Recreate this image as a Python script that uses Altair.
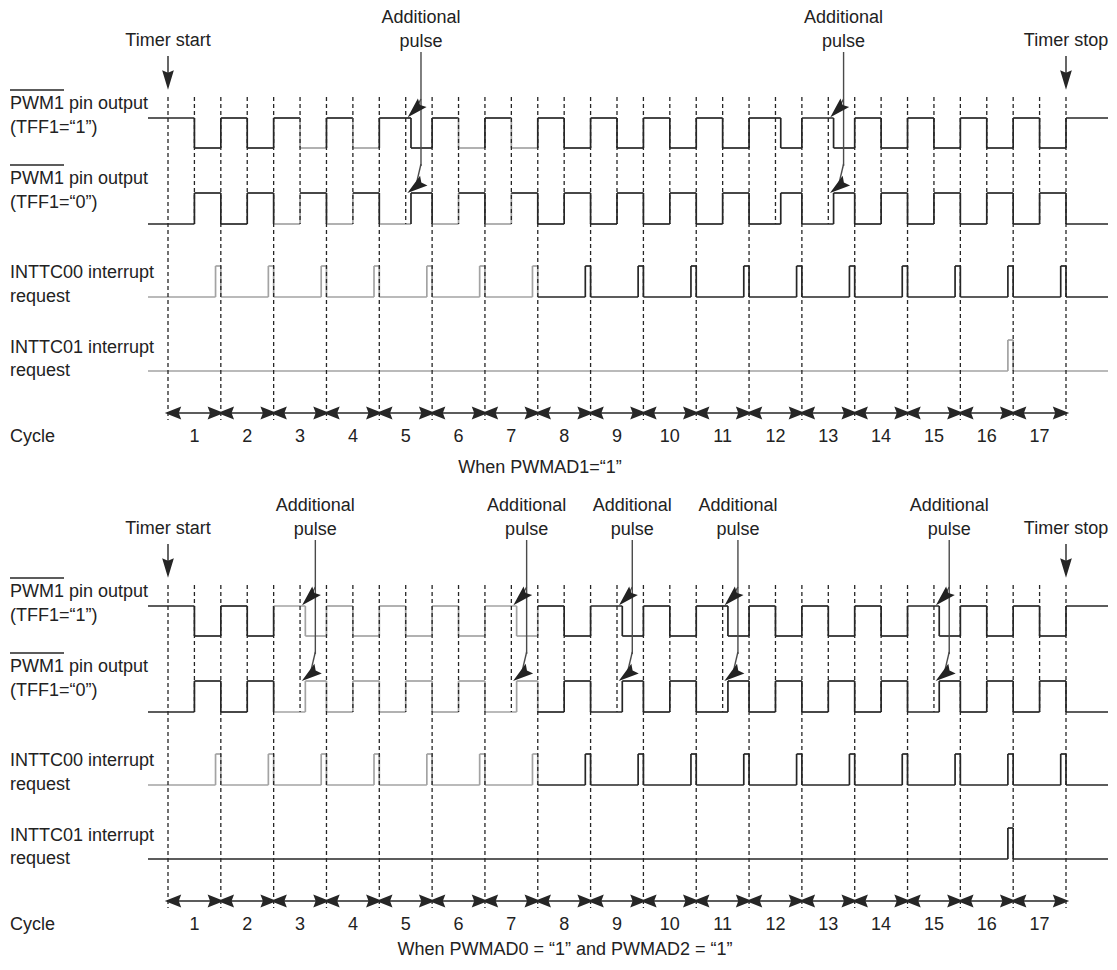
import altair as alt
import pandas as pd

# ---------------- values ----------------
CYCLE_NUMBERS = list(range(1, 18))
# fraction of each cycle at which the (inverted) PWM1 output changes; 0.6 = cycle carrying an additional pulse
FALL_POINT_TOP = [0.5, 0.5, 0.5, 0.5, 0.6, 0.5, 0.5, 0.5, 0.5, 0.5, 0.5, 0.6, 0.6, 0.5, 0.5, 0.5, 0.5]
FALL_POINT_BOTTOM = [0.5, 0.5, 0.6, 0.5, 0.5, 0.5, 0.6, 0.5, 0.6, 0.5, 0.6, 0.5, 0.5, 0.5, 0.6, 0.5, 0.5]
ADDITIONAL_LABEL_TOP = [5, 13]
ADDITIONAL_LABEL_BOTTOM = [3, 7, 9, 11, 15]
INTTC00_PULSES = list(range(1, 18))
INTTC01_PULSES = [16]
PULSE_WIDTH = 0.1
GREY_EDGE_TOP = [3, 4, 6, 7]
GREY_LOW_A_TOP = [3, 4, 6, 7]
GREY_LOW_B_TOP = [3, 4, 5, 6, 7]
GREY_CYCLES_BOTTOM = [3, 4, 5, 6, 7]
INTTC00_GREY_UNTIL = 7
INTTC01_GREY = [True, False]
CAPTIONS = ["When PWMAD1=\u201c1\u201d", "When PWMAD0 = \u201c1\u201d and PWMAD2 = \u201c1\u201d"]
ROW_LABELS = [("PWM1 pin output", "(TFF1=\u201c1\u201d)"),
              ("PWM1 pin output", "(TFF1=\u201c0\u201d)"),
              ("INTTC00 interrupt", "request"),
              ("INTTC01 interrupt", "request")]

# ---------------- layout ----------------
W, H = 1100, 954
PX = 898 / 17
FONT = "Liberation Sans"
TEXT = "#222222"
BLACK = "#262626"
GREY = "#a3a3a3"
ARROW = "#4a4a4a"


def cx(page_x):
    return (page_x - 168) / PX


def dpx(d):
    return d / PX


X_START, X_END = cx(148), cx(1110)
PANEL_DY = [0, 488]
HI_A, LO_A = 118, 148
HI_B, LO_B = 193, 224
INT0_BASE, INT0_TOP = 297, 266
INT1_BASE, INT1_TOP = 371, 340
LABEL_Y = [(104, 128), (179, 203), (273, 297), (348, 371)]
OVERLINE_Y = [90, 165]

xs = alt.Scale(domain=[cx(8), cx(8 + W)], nice=False, zero=False)
ys = alt.Scale(domain=[8, 8 + H], nice=False, zero=False, reverse=True)

wave, ann, dashes = [], [], []
heads_cyc, heads_add, heads_timer = [], [], []
txt_left, txt_center = [], []


def add(lst, x, y, x2, y2, c):
    lst.append({"x": x, "y": y, "x2": x2, "y2": y2, "c": c})


def pwm_grey(p, row, k):
    if p == 0:
        edge = k in GREY_EDGE_TOP
        if row == "A":
            return (False, edge, k in GREY_LOW_A_TOP, False)
        return (k in GREY_LOW_B_TOP, edge, False, False)
    g = k in GREY_CYCLES_BOTTOM
    return (g, g, g, g)


for p, dy in enumerate(PANEL_DY):
    falls = [FALL_POINT_TOP, FALL_POINT_BOTTOM][p]
    # PWM rows
    for row in ("A", "B"):
        L1, L2 = (HI_A + dy, LO_A + dy) if row == "A" else (LO_B + dy, HI_B + dy)
        prev = X_START
        for i, k in enumerate(CYCLE_NUMBERS):
            f = k - 1 + falls[i]
            g1, ge, g2, gk = pwm_grey(p, row, k)
            add(wave, prev, L1, f, L1, GREY if g1 else BLACK)
            add(wave, f, L1, f, L2, GREY if ge else BLACK)
            add(wave, f, L2, k, L2, GREY if g2 else BLACK)
            add(wave, k, L2, k, L1, GREY if gk else BLACK)
            prev = k
        add(wave, prev, L1, X_END, L1, BLACK)
    # INTTC00
    base, top = INT0_BASE + dy, INT0_TOP + dy
    prev = X_START
    for k in INTTC00_PULSES:
        c = GREY if k <= INTTC00_GREY_UNTIL else BLACK
        s = k - PULSE_WIDTH
        add(wave, prev, base, s, base, c)
        add(wave, s, base, s, top, c)
        add(wave, s, top, k, top, c)
        add(wave, k, top, k, base, c)
        prev = k
    add(wave, prev, base, X_END, base, BLACK)
    # INTTC01
    base, top = INT1_BASE + dy, INT1_TOP + dy
    c = GREY if INTTC01_GREY[p] else BLACK
    prev = X_START
    for k in INTTC01_PULSES:
        s = k - PULSE_WIDTH
        add(wave, prev, base, s, base, c)
        add(wave, s, base, s, top, c)
        add(wave, s, top, k, top, c)
        add(wave, k, top, k, base, c)
        prev = k
    add(wave, prev, base, X_END, base, c)

    # dashed guides
    for t in range(0, 18):
        dashes.append({"x": t, "y": 97 + dy, "y2": 420 + dy})
    for k in CYCLE_NUMBERS:
        dashes.append({"x": k - 0.5, "y": 97 + dy, "y2": 224 + dy})

    # cycle arrows and numbers
    for k in CYCLE_NUMBERS:
        add(ann, k - 1, 413 + dy, k, 413 + dy, BLACK)
        heads_cyc.append({"x": k - 1 + dpx(5), "y": 413 + dy, "a": 90})
        heads_cyc.append({"x": k - dpx(5), "y": 413 + dy, "a": 270})
        txt_center.append({"x": k - 0.5, "y": 437 + dy, "t": str(k)})
    txt_left.append({"x": cx(10), "y": 437 + dy, "t": "Cycle"})

    # row labels
    for (l1, l2), (y1, y2) in zip(ROW_LABELS, LABEL_Y):
        txt_left.append({"x": cx(10), "y": y1 + dy, "t": l1})
        txt_left.append({"x": cx(10), "y": y2 + dy, "t": l2})
    for oy in OVERLINE_Y:
        add(ann, cx(10), oy + dy, cx(64), oy + dy, BLACK)

    # timer start / stop
    for t, lab in ((0, "Timer start"), (17, "Timer stop")):
        txt_center.append({"x": t, "y": 41 + dy, "t": lab})
        add(ann, t, 56 + dy, t, 80 + dy, BLACK)
        heads_timer.append({"x": t, "y": 80 + dy, "a": 0})

    # additional pulse annotations
    for k in [ADDITIONAL_LABEL_TOP, ADDITIONAL_LABEL_BOTTOM][p]:
        f = k - 1 + falls[k - 1]
        lx = f + dpx(10)
        txt_center.append({"x": lx, "y": 18 + dy, "t": "Additional"})
        txt_center.append({"x": lx, "y": 42 + dy, "t": "pulse"})
        add(ann, lx, 52 + dy, lx, 166 + dy, ARROW)
        # upper head
        tx, ty = f - dpx(1.0), HI_A - 3 + dy
        hx, hy = tx + dpx(5.0), ty - 5.0
        add(ann, lx, 99 + dy, hx, hy, ARROW)
        heads_add.append({"x": hx, "y": hy, "a": 45})
        # lower head
        tx, ty = f - dpx(1.0), HI_B - 2 + dy
        hx, hy = tx + dpx(5.6), ty - 4.2
        add(ann, lx, 164 + dy, hx, hy, ARROW)
        heads_add.append({"x": hx, "y": hy, "a": 53})

    txt_center.append({"x": cx([540, 565][p]), "y": [468, 950][p], "t": CAPTIONS[p]})

X = lambda: alt.X("x:Q", scale=xs, axis=None)
Y = lambda: alt.Y("y:Q", scale=ys, axis=None)


def seg_layer(rows, width, dash=None):
    kw = dict(strokeWidth=width)
    if dash:
        kw["strokeDash"] = dash
    return alt.Chart(pd.DataFrame(rows)).mark_rule(**kw).encode(
        x=X(), y=Y(), x2="x2:Q", y2="y2:Q", color=alt.Color("c:N", scale=None))


dash_layer = alt.Chart(pd.DataFrame(dashes)).mark_rule(
    strokeWidth=1.3, strokeDash=[4, 3], color=BLACK).encode(x=X(), y=Y(), y2="y2:Q")


def head_layer(rows, shape, size, color):
    return alt.Chart(pd.DataFrame(rows)).mark_point(
        shape=shape, size=size, filled=True, opacity=1, color=color, strokeWidth=0).encode(
        x=X(), y=Y(), angle=alt.Angle("a:Q", scale=None))


def text_layer(rows, align):
    return alt.Chart(pd.DataFrame(rows)).mark_text(
        align=align, baseline="middle", font=FONT, fontSize=18, color=TEXT).encode(
        x=X(), y=Y(), text="t:N")


chart = alt.layer(
    seg_layer(wave, 1.7),
    dash_layer,
    seg_layer(ann, 1.4),
    head_layer(heads_cyc, "M-0.8,-1L0,-0.7L0.8,-1L0,1Z", 270, BLACK),
    head_layer(heads_timer, "M-0.6,-1L0,-0.75L0.6,-1L0,1Z", 380, BLACK),
    head_layer(heads_add, "M-0.6,-1L0,-0.7L0.6,-1L0,1Z", 420, "#222222"),
    text_layer(txt_left, "left"),
    text_layer(txt_center, "center"),
).properties(
    width=W, height=H, padding=0, autosize=alt.AutoSizeParams(type="none")
).configure_view(stroke=None)

chart.save("out.html", embed_options={"renderer": "svg", "actions": False})
